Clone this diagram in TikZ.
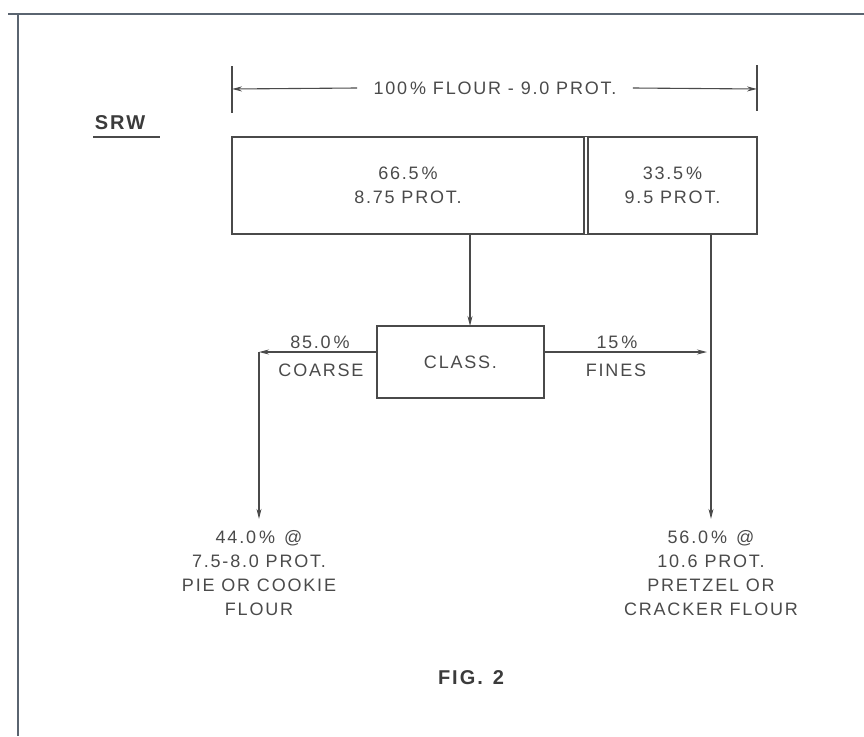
\documentclass[tikz,border=0pt]{standalone}
\usepackage{fontspec}
\setmainfont{Liberation Sans}[LetterSpace=10]
\usetikzlibrary{arrows.meta}
\definecolor{ink}{HTML}{4A4A4A}
\definecolor{rim}{HTML}{5A6470}
\begin{document}
\begin{tikzpicture}[x=1pt,y=-1pt,line width=1.1pt,draw=ink,>={Stealth[length=10pt,width=5pt]},
  every node/.style={text=ink,font=\fontsize{18}{24}\selectfont,align=center,inner sep=2pt},
  box/.style={draw,minimum height=97pt},
  title/.style={font=\bfseries\fontsize{20}{24}\selectfont,text=ink!80!black}]
\useasboundingbox (0,0) rectangle (864,736);
\draw[rim,line width=2pt] (8,14) -- (864,14) (18,14) -- (18,736);
\node[inner xsep=16pt] (total) at (495,88) {100\,\% FLOUR - 9.0 PROT.};
\coordinate (lefttick) at (232,89); \coordinate (righttick) at (757,89);
\draw (232,66) -- (232,113) (757,65) -- (757,111);
\draw[->] (total.west) -- (lefttick); \draw[->] (total.east) -- (righttick);
\node[title] (srw) at (120,123) {SRW};
\draw (93,137) -- (160,137);
\node[box,minimum width=352pt] (heads) at (408,185.5) {66.5\,\%\\8.75 PROT.};
\node[box,minimum width=169pt] (tail) at (672.5,185.5) {33.5\,\%\\9.5 PROT.};
\draw (heads.north east) -- (tail.north west) (heads.south east) -- (tail.south west);
\node[draw,minimum width=167pt,minimum height=72pt] (class) at (460.5,362) {CLASS.};
\coordinate (drop) at (470,326);
\draw[->] (heads.south -| drop) -- (drop);
\node (coarsepct) at (320,342) {85.0\,\%};
\node (coarse) at (321,370) {COARSE};
\node (finespct) at (617,342) {15\,\%};
\node (fines) at (616,370) {FINES};
\coordinate (bend) at (259,352); \coordinate (join) at (711,352);
\node[inner ysep=11pt] (pie) at (259,573) {44.0\,\%\enspace @\\7.5-8.0 PROT.\\PIE OR COOKIE\\FLOUR};
\node[inner ysep=11pt] (pretzel) at (711,573) {56.0\,\%\enspace @\\10.6 PROT.\\PRETZEL OR\\CRACKER FLOUR};
\draw[->] (class.west |- bend) -- (bend); \draw[->] (bend) -- (pie.north -| bend);
\draw[->,shorten >=4pt] (class.east |- join) -- (join);
\draw[->] (tail.south -| join) -- (pretzel.north -| join);
\node[title] (fig) at (471,678) {FIG.\enspace 2};
\end{tikzpicture}
\end{document}
